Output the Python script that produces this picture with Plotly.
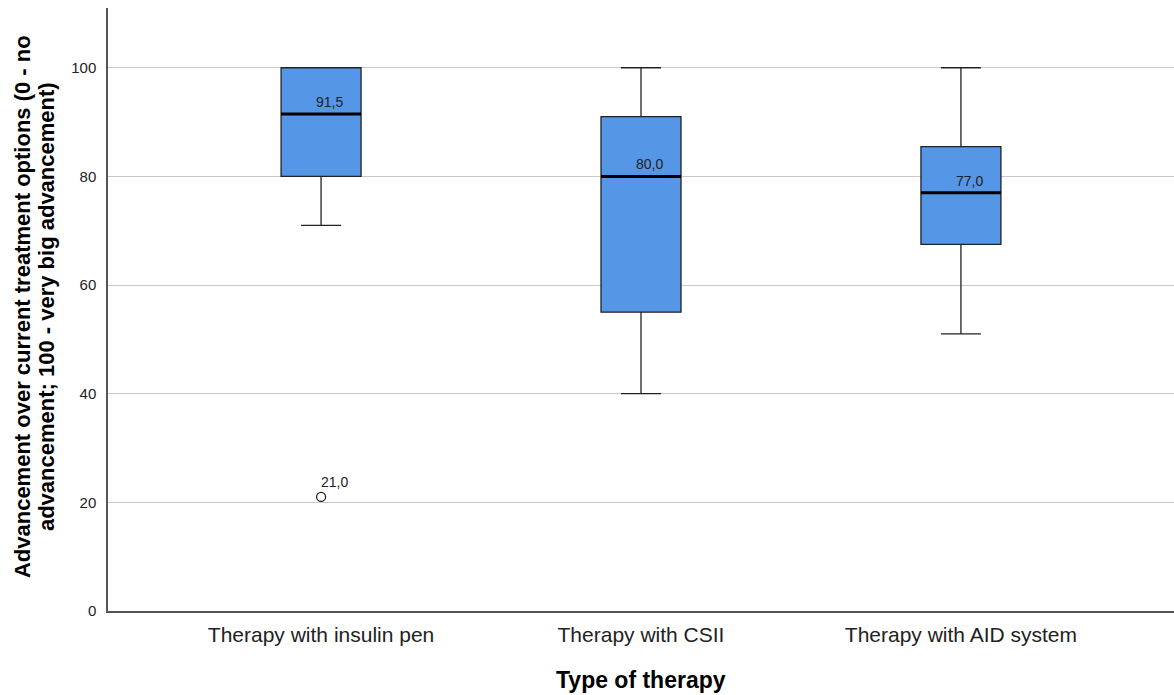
import plotly.graph_objects as go

# Summary statistics per therapy type
categories = ["Therapy with insulin pen", "Therapy with CSII", "Therapy with AID system"]
lower_whisker = [71, 40, 51]
q1 = [80, 55, 67.5]
median = [91.5, 80, 77]
q3 = [100, 91, 85.5]
upper_whisker = [100, 100, 100]

# Outliers (category index, value)
outlier_cat = [0]
outlier_val = [21]

y_ticks = [0, 20, 40, 60, 80, 100]

x_title = "Type of therapy"
y_title_lines = [
    "Advancement over current treatment options (0 - no",
    "advancement; 100 - very big advancement)",
]

BOX_FILL = "#5596E6"
BOX_W = 0.25
FONT = "Liberation Sans, Arial, sans-serif"


def fmt(v):
    return f"{v:.1f}".replace(".", ",")


pos = list(range(len(categories)))

fig = go.Figure()
fig.add_trace(go.Box(
    x=pos,
    q1=q1, median=median, q3=q3,
    lowerfence=lower_whisker, upperfence=upper_whisker,
    width=BOX_W,
    whiskerwidth=0.5,
    fillcolor=BOX_FILL,
    line=dict(color="#222222", width=1.3),
    boxpoints=False,
    showlegend=False,
    hoverinfo="skip",
))

# Thick median lines with value labels
for i, m in zip(pos, median):
    fig.add_trace(go.Scatter(
        x=[i - BOX_W / 2, i + BOX_W / 2], y=[m, m],
        mode="lines", line=dict(color="black", width=3),
        showlegend=False, hoverinfo="skip",
    ))
    fig.add_annotation(
        x=i, y=m, text=fmt(m), showarrow=False,
        xanchor="left", yanchor="bottom", xshift=-7, yshift=2,
        font=dict(family=FONT, size=14, color="#222222"),
    )

# Outliers
fig.add_trace(go.Scatter(
    x=outlier_cat, y=outlier_val, mode="markers",
    marker=dict(symbol="circle-open", size=9, color="#222222", line=dict(width=1.3)),
    showlegend=False, hoverinfo="skip",
))
for c, v in zip(outlier_cat, outlier_val):
    fig.add_annotation(
        x=c, y=v, text=fmt(v), showarrow=False,
        xanchor="left", yanchor="bottom", xshift=-2, yshift=5,
        font=dict(family=FONT, size=14, color="#222222"),
    )

# Axis titles
fig.add_annotation(
    xref="paper", yref="paper", x=0.5, y=0, yshift=-69,
    text=f"<b>{x_title}</b>", showarrow=False,
    xanchor="center", yanchor="middle",
    font=dict(family=FONT, size=23, color="black"),
)
for k, line in enumerate(y_title_lines):
    fig.add_annotation(
        xref="paper", yref="paper", x=0, y=0.504, xshift=-86 + 24 * k,
        text=f"<b>{line}</b>", showarrow=False, textangle=-90,
        xanchor="center", yanchor="middle",
        font=dict(family=FONT, size=22, color="black"),
    )

fig.update_layout(
    width=1174, height=695,
    margin=dict(l=108, r=0, t=8, b=84),
    paper_bgcolor="white", plot_bgcolor="white",
    font=dict(family=FONT, color="#222222"),
    xaxis=dict(
        range=[-0.666, 2.666],
        tickmode="array", tickvals=pos, ticktext=categories,
        tickfont=dict(size=21, color="#222222"),
        showgrid=False, zeroline=False,
        showline=True, linecolor="#555555", linewidth=1.5,
        ticks="", ticklabelstandoff=4,
    ),
    yaxis=dict(
        range=[0, 111],
        tickmode="array", tickvals=y_ticks,
        tickfont=dict(size=15, color="#222222"),
        showgrid=True, gridcolor="#C8C8C8", gridwidth=1.3,
        zeroline=False,
        showline=True, linecolor="#555555", linewidth=1.5,
        ticks="", ticklabelstandoff=7,
    ),
)

fig.write_html("out.html")
